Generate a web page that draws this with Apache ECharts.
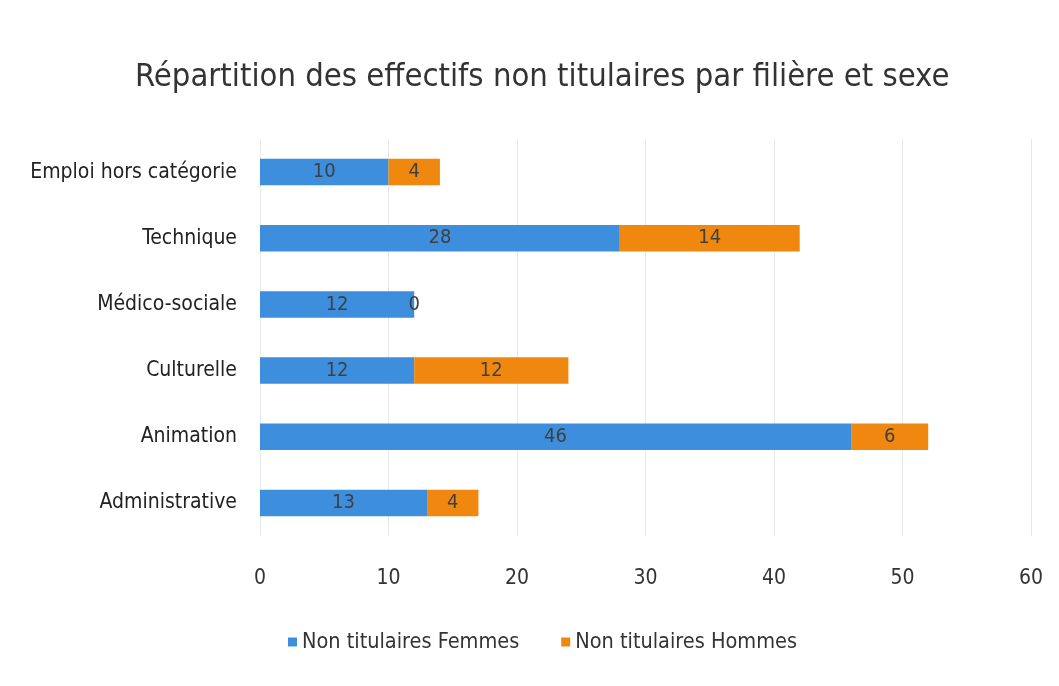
<html>
<head>
    <meta charset="utf-8">
    <title>Répartition des effectifs</title>
    <script src="https://cdn.jsdelivr.net/npm/echarts@6/dist/echarts.min.js"></script>
    <style>
        html, body { margin: 0; padding: 0; background: #fff; }
        #main { width: 1059px; height: 686px; }
    </style>
</head>
<body>
    <div id="main"></div>
    <script>
        // données
        var filieres = ['Administrative', 'Animation', 'Culturelle', 'Médico-sociale', 'Technique', 'Emploi hors catégorie'];
        var femmes = [13, 46, 12, 12, 28, 10];
        var hommes = [4, 6, 12, 0, 14, 4];
        var seriesNames = ['Non titulaires Femmes', 'Non titulaires Hommes'];

        var font = '"Liberation Sans Narrow", "DejaVu Sans Condensed", "Noto Sans", sans-serif';

        var myChart = echarts.init(document.getElementById('main'));

        var labelStyle = {
            show: true,
            position: 'inside',
            color: '#404040',
            fontFamily: font,
            fontSize: 20
        };

        var option = {
            backgroundColor: '#fff',
            textStyle: { fontFamily: font },
            title: {
                text: 'Répartition des effectifs non titulaires par filière et sexe',
                left: 130,
                top: 56,
                textStyle: { fontFamily: font, fontSize: 32.5, fontWeight: 'normal', color: '#333' }
            },
            legend: {
                bottom: 28,
                left: 283,
                itemWidth: 9,
                itemHeight: 9,
                itemGap: 42,
                icon: 'rect',
                textStyle: { fontFamily: font, fontSize: 21.5, color: '#333' },
                data: seriesNames
            },
            grid: {
                left: 260,
                right: 28,
                top: 139,
                bottom: 150,
                containLabel: false
            },
            xAxis: {
                type: 'value',
                min: 0,
                max: 60,
                interval: 10,
                axisLine: { show: false },
                axisTick: { show: false },
                splitLine: { lineStyle: { color: '#e8e8e8' } },
                axisLabel: { fontFamily: font, fontSize: 21, color: '#333', margin: 32 }
            },
            yAxis: {
                type: 'category',
                data: filieres,
                axisLine: { show: false },
                axisTick: { show: false },
                axisLabel: { fontFamily: font, fontSize: 21, color: '#222', margin: 23 }
            },
            series: [
                {
                    name: seriesNames[0],
                    type: 'bar',
                    stack: 'total',
                    barWidth: '40%',
                    itemStyle: { color: '#3d8fde' },
                    label: labelStyle,
                    data: femmes
                },
                {
                    name: seriesNames[1],
                    type: 'bar',
                    stack: 'total',
                    barWidth: '40%',
                    itemStyle: { color: '#f0870f' },
                    label: labelStyle,
                    data: hommes
                }
            ]
        };
        myChart.setOption(option);
    </script>
</body>
</html>
